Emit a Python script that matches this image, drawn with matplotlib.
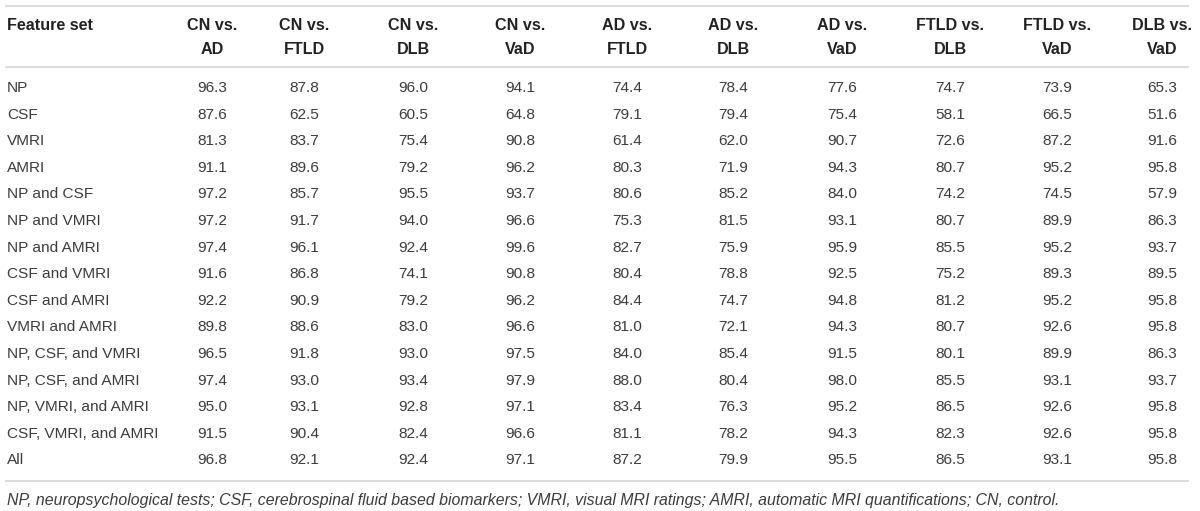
import matplotlib
matplotlib.use("Agg")
import matplotlib.pyplot as plt

plt.rcParams['font.family'] = ['Liberation Sans', 'DejaVu Sans']

feature_sets = ['NP', 'CSF', 'VMRI', 'AMRI', 'NP and CSF', 'NP and VMRI',
                'NP and AMRI', 'CSF and VMRI', 'CSF and AMRI', 'VMRI and AMRI',
                'NP, CSF, and VMRI', 'NP, CSF, and AMRI', 'NP, VMRI, and AMRI',
                'CSF, VMRI, and AMRI', 'All']

header_top = ['CN vs.', 'CN vs.', 'CN vs.', 'CN vs.', 'AD vs.', 'AD vs.',
              'AD vs.', 'FTLD vs.', 'FTLD vs.', 'DLB vs.']
header_bottom = ['AD', 'FTLD', 'DLB', 'VaD', 'FTLD', 'DLB', 'VaD', 'DLB', 'VaD', 'VaD']

cn_ad = [96.3, 87.6, 81.3, 91.1, 97.2, 97.2, 97.4, 91.6, 92.2, 89.8, 96.5, 97.4, 95.0, 91.5, 96.8]
cn_ftld = [87.8, 62.5, 83.7, 89.6, 85.7, 91.7, 96.1, 86.8, 90.9, 88.6, 91.8, 93.0, 93.1, 90.4, 92.1]
cn_dlb = [96.0, 60.5, 75.4, 79.2, 95.5, 94.0, 92.4, 74.1, 79.2, 83.0, 93.0, 93.4, 92.8, 82.4, 92.4]
cn_vad = [94.1, 64.8, 90.8, 96.2, 93.7, 96.6, 99.6, 90.8, 96.2, 96.6, 97.5, 97.9, 97.1, 96.6, 97.1]
ad_ftld = [74.4, 79.1, 61.4, 80.3, 80.6, 75.3, 82.7, 80.4, 84.4, 81.0, 84.0, 88.0, 83.4, 81.1, 87.2]
ad_dlb = [78.4, 79.4, 62.0, 71.9, 85.2, 81.5, 75.9, 78.8, 74.7, 72.1, 85.4, 80.4, 76.3, 78.2, 79.9]
ad_vad = [77.6, 75.4, 90.7, 94.3, 84.0, 93.1, 95.9, 92.5, 94.8, 94.3, 91.5, 98.0, 95.2, 94.3, 95.5]
ftld_dlb = [74.7, 58.1, 72.6, 80.7, 74.2, 80.7, 85.5, 75.2, 81.2, 80.7, 80.1, 85.5, 86.5, 82.3, 86.5]
ftld_vad = [73.9, 66.5, 87.2, 95.2, 74.5, 89.9, 95.2, 89.3, 95.2, 92.6, 89.9, 93.1, 92.6, 92.6, 93.1]
dlb_vad = [65.3, 51.6, 91.6, 95.8, 57.9, 86.3, 93.7, 89.5, 95.8, 95.8, 86.3, 93.7, 95.8, 95.8, 95.8]

columns = [cn_ad, cn_ftld, cn_dlb, cn_vad, ad_ftld, ad_dlb, ad_vad, ftld_dlb, ftld_vad, dlb_vad]

footnote = ('NP, neuropsychological tests; CSF, cerebrospinal fluid based biomarkers; '
            'VMRI, visual MRI ratings; AMRI, automatic MRI quantifications; CN, control.')

W, H = 1200, 511
fig = plt.figure(figsize=(W / 100, H / 100), dpi=100)
ax = fig.add_axes([0, 0, 1, 1])
ax.set_xlim(0, W)
ax.set_ylim(H, 0)
ax.axis('off')

# layout in pixels
col_x = [212, 304, 413, 520, 627, 733, 842, 950, 1057, 1162]
row_y0, row_dy = 88, 26.6
rule_color = '#d9d9d9'
head_color = '#222222'
body_color = '#3c3c3c'
fs = 11.1
fs_head = 11.6

for y in (6, 67, 481):
    ax.plot([5, 1189], [y, y], color=rule_color, lw=1.3, solid_capstyle='butt')

ax.text(7, 26, 'Feature set', ha='left', va='center', fontsize=fs_head,
        fontweight='bold', color=head_color)
for x, t1, t2 in zip(col_x, header_top, header_bottom):
    ax.text(x, 26, t1, ha='center', va='center', fontsize=fs_head,
            fontweight='bold', color=head_color)
    ax.text(x, 49, t2, ha='center', va='center', fontsize=fs_head,
            fontweight='bold', color=head_color)

for i, name in enumerate(feature_sets):
    y = row_y0 + i * row_dy
    ax.text(7, y, name, ha='left', va='center', fontsize=fs, color=body_color)
    for x, col in zip(col_x, columns):
        ax.text(x, y, f'{col[i]:.1f}', ha='center', va='center',
                fontsize=fs, color=body_color)

ax.text(7, 500, footnote, ha='left', va='center', fontsize=11.45,
        style='italic', color=body_color)

fig.savefig('out.png', dpi=100)
